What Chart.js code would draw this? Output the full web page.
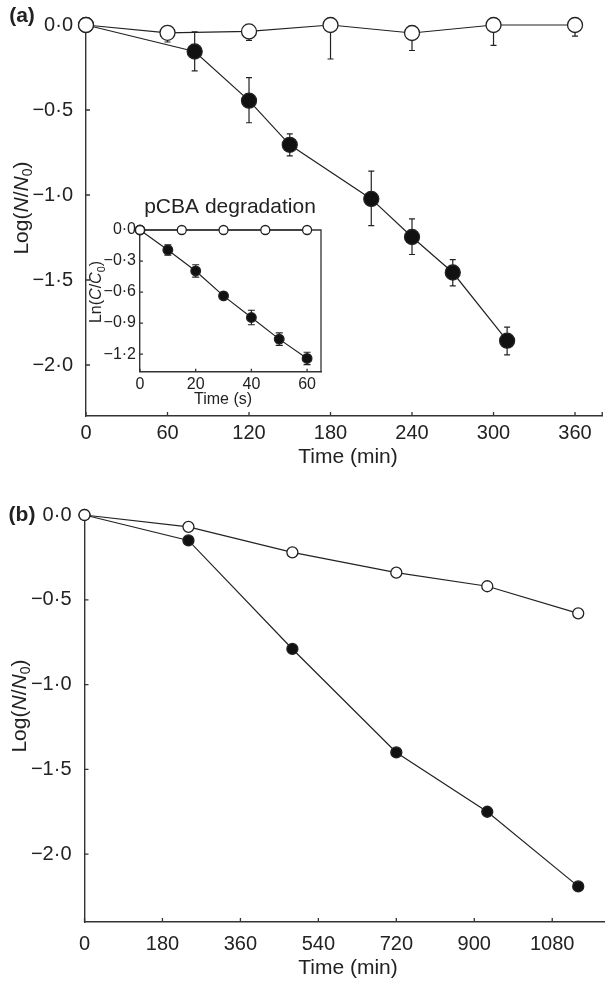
<!DOCTYPE html>
<html lang="en">
<head>
<meta charset="UTF-8">
<title>Log(N/N0) inactivation</title>
<script src="https://cdn.jsdelivr.net/npm/chart.js@4.4.0/dist/chart.umd.min.js"></script>
<style>
  body { margin: 0; background: #fff; }
  #wrap { position: relative; width: 611px; height: 982px; }
  canvas { position: absolute; }
</style>
</head>
<body>
<div id="wrap">
  <canvas id="chartA" width="611" height="490" style="left:0;top:0"></canvas>
  <canvas id="inset" width="280" height="225" style="left:60px;top:190px"></canvas>
  <canvas id="chartB" width="611" height="492" style="left:0;top:490px"></canvas>
</div>
<script>
// panel (a), minutes vs log(N/N0)
const timeA_open = [0, 60, 120, 180, 240, 300, 360];
const logA_open = [0, -0.046, -0.038, 0, -0.047, 0, 0];
const errA_open_low = [null, -0.10, -0.09, -0.20, -0.15, -0.12, -0.066];

const timeA_fill = [0, 80, 120, 150, 210, 240, 270, 310];
const logA_fill = [0, -0.156, -0.445, -0.705, -1.023, -1.247, -1.456, -1.857];
const errA_fill_low = [null, -0.27, -0.575, -0.77, -1.18, -1.35, -1.535, -1.94];
const errA_fill_high = [null, -0.04, -0.31, -0.64, -0.86, -1.14, -1.38, -1.777];

// inset, pCBA degradation, seconds vs ln(C/C0)
const timeIn_open = [0, 15, 30, 45, 60];
const lnIn_open = [0, 0, 0, 0, 0];
const errIn_open = [0, 0, 0, 0.02, 0.02];
const timeIn_fill = [0, 10, 20, 30, 40, 50, 60];
const lnIn_fill = [0, -0.193, -0.396, -0.637, -0.846, -1.055, -1.242];
const errIn_fill = [0, 0.05, 0.06, 0.035, 0.07, 0.06, 0.06];

// panel (b)
const timeB_open = [0, 240, 480, 720, 930, 1140];
const logB_open = [0, -0.07, -0.22, -0.34, -0.42, -0.58];
const timeB_fill = [0, 240, 480, 720, 930, 1140];
const logB_fill = [0, -0.15, -0.79, -1.40, -1.75, -2.19];

const ticksA_x = [0, 60, 120, 180, 240, 300, 360];
const ticksB_x = [0, 180, 360, 540, 720, 900, 1080];
const ticksLog_y = [0, -0.5, -1.0, -1.5, -2.0];
const ticksIn_x = [0, 20, 40, 60];
const ticksIn_y = [0, -0.3, -0.6, -0.9, -1.2];

const FONT = '"Liberation Sans", Arial, Helvetica, sans-serif';
Chart.defaults.font.family = FONT;
Chart.defaults.color = '#222';

const pts = (xs, ys) => xs.map((x, i) => ({x: x, y: ys[i]}));
const fmt = v => v.toFixed(1).replace('.', '\u00b7').replace('-', '\u2212');

function drawRich(ctx, parts, x, y, size, rot, weight) {
  ctx.save();
  ctx.translate(x, y);
  ctx.rotate(rot || 0);
  const font = p => (p.i ? 'italic ' : '') + (weight || 'normal') + ' ' +
    (p.sub ? size * 0.68 : size) + 'px ' + FONT;
  let w = 0;
  parts.forEach(p => { ctx.font = font(p); p.w = ctx.measureText(p.t).width; w += p.w; });
  let cx = -w / 2;
  ctx.textBaseline = 'middle';
  ctx.fillStyle = '#222';
  parts.forEach(p => {
    ctx.font = font(p);
    ctx.fillText(p.t, cx, p.sub ? size * 0.3 : 0);
    cx += p.w;
  });
  ctx.restore();
}

const errorBars = {
  id: 'errorBars',
  beforeDatasetsDraw(chart) {
    const {ctx} = chart;
    const xs = chart.scales.x, ys = chart.scales.y;
    ctx.save();
    ctx.strokeStyle = '#222';
    ctx.lineWidth = 1.2;
    chart.data.datasets.forEach(ds => {
      if (!ds.errLow) return;
      ds.data.forEach((p, i) => {
        const lo = ds.errLow[i];
        if (lo == null) return;
        const hi = ds.errHigh ? ds.errHigh[i] : p.y;
        const px = xs.getPixelForValue(p.x);
        const y1 = ys.getPixelForValue(hi), y2 = ys.getPixelForValue(lo);
        const c = ds.capW || 3;
        ctx.beginPath();
        ctx.moveTo(px, y1); ctx.lineTo(px, y2);
        ctx.moveTo(px - c, y2); ctx.lineTo(px + c, y2);
        if (ds.errHigh) { ctx.moveTo(px - c, y1); ctx.lineTo(px + c, y1); }
        ctx.stroke();
      });
    });
    ctx.restore();
  }
};

// inward tick marks, inset frame and the rich-text titles
const decor = {
  id: 'decor',
  beforeDatasetsDraw(chart, args, opts) {
    const {ctx, chartArea: a} = chart;
    const len = opts.len || 4;
    ctx.save();
    ctx.strokeStyle = '#333';
    ctx.lineWidth = 1.3;
    ctx.beginPath();
    (opts.xt || []).forEach(v => {
      const px = chart.scales.x.getPixelForValue(v);
      ctx.moveTo(px, a.bottom); ctx.lineTo(px, a.bottom - len);
    });
    (opts.yt || []).forEach(v => {
      const py = chart.scales.y.getPixelForValue(v);
      ctx.moveTo(a.left, py); ctx.lineTo(a.left + len, py);
    });
    if (opts.box) {
      ctx.moveTo(a.left, a.top); ctx.lineTo(a.right, a.top); ctx.lineTo(a.right, a.bottom);
    }
    ctx.stroke();
    ctx.restore();
  },
  afterDraw(chart, args, opts) {
    (opts.texts || []).forEach(t => drawRich(chart.ctx, t.parts, t.x, t.y, t.size, t.rot, t.weight));
  }
};

const logLabel = [{t: 'Log('}, {t: 'N', i: true}, {t: '/'}, {t: 'N', i: true}, {t: '0', sub: true}, {t: ')'}];
const lnLabel = [{t: 'Ln('}, {t: 'C', i: true}, {t: '/'}, {t: 'C', i: true}, {t: '0', sub: true}, {t: ')'}];

function makeChart(id, cfg) {
  const fixedTicks = arr => scale => { scale.ticks = arr.map(v => ({value: v})); };
  return new Chart(document.getElementById(id), {
    type: 'scatter',
    data: {datasets: cfg.datasets},
    options: {
      responsive: false,
      animation: false,
      events: [],
      layout: {padding: cfg.padding},
      plugins: {
        legend: {display: false},
        tooltip: {enabled: false},
        decor: cfg.decor
      },
      scales: {
        x: {
          type: 'linear', min: cfg.xMin, max: cfg.xMax,
          afterBuildTicks: fixedTicks(cfg.xTicks),
          afterFit: s => { s.height = cfg.xH; },
          grid: {display: false, drawTicks: false},
          border: {display: true, color: '#333', width: 1.4},
          ticks: {autoSkip: false, maxRotation: 0, padding: cfg.xPad,
                  font: {size: cfg.tickSize}, callback: v => String(v)}
        },
        y: {
          type: 'linear', min: cfg.yMin, max: cfg.yMax,
          afterBuildTicks: fixedTicks(cfg.yTicks),
          afterFit: s => { s.width = cfg.yW; },
          grid: {display: false, drawTicks: false},
          border: {display: true, color: '#333', width: 1.4},
          ticks: {autoSkip: false, padding: cfg.yPad,
                  font: {size: cfg.tickSize}, callback: v => fmt(v)}
        }
      }
    },
    plugins: [errorBars, decor]
  });
}

function series(xs, ys, filled, r, extra) {
  return Object.assign({
    data: pts(xs, ys),
    showLine: true,
    borderColor: '#222',
    borderWidth: 1.2,
    pointRadius: r,
    pointBorderWidth: 1.3,
    pointBorderColor: '#222',
    pointBackgroundColor: filled ? '#111' : '#fff',
    clip: false
  }, extra || {});
}

// panel (a)
makeChart('chartA', {
  padding: {top: 14.5, right: 1, left: 0, bottom: 0},
  xMin: 0, xMax: 380, yMin: -2.3, yMax: 0,
  xTicks: ticksA_x, yTicks: ticksLog_y,
  xH: 74, yW: 86, xPad: 5, yPad: 13, tickSize: 20,
  datasets: [
    series(timeA_open, logA_open, false, 7.5, {errLow: errA_open_low}),
    series(timeA_fill, logA_fill, true, 7.5, {errLow: errA_fill_low, errHigh: errA_fill_high})
  ],
  decor: {
    xt: ticksA_x.concat([380]), yt: ticksLog_y, len: 4,
    texts: [
      {parts: [{t: '(a)'}], x: 22, y: 16, size: 21, weight: 'bold'},
      {parts: logLabel, x: 22, y: 208, size: 21, rot: -Math.PI / 2},
      {parts: [{t: 'Time (min)'}], x: 348, y: 457, size: 21}
    ]
  }
});

// inset
makeChart('inset', {
  padding: {top: 40, right: 19, left: 0, bottom: 0},
  xMin: 0, xMax: 65, yMin: -1.37, yMax: 0,
  xTicks: ticksIn_x, yTicks: ticksIn_y,
  xH: 43.3, yW: 80, xPad: 3, yPad: 4, tickSize: 16,
  datasets: [
    series(timeIn_open, lnIn_open, false, 4.5, {
      errLow: lnIn_open.map((v, i) => v - errIn_open[i]),
      errHigh: lnIn_open.map((v, i) => v + errIn_open[i]), capW: 3}),
    series(timeIn_fill, lnIn_fill, true, 4.8, {
      errLow: lnIn_fill.map((v, i) => v - errIn_fill[i]),
      errHigh: lnIn_fill.map((v, i) => v + errIn_fill[i]), capW: 3.5})
  ],
  decor: {
    xt: ticksIn_x, yt: ticksIn_y, len: 3, box: true,
    texts: [
      {parts: [{t: 'pCBA degradation'}], x: 170, y: 17, size: 21},
      {parts: lnLabel, x: 37, y: 102, size: 16, rot: -Math.PI / 2},
      {parts: [{t: 'Time (s)'}], x: 163, y: 210, size: 16}
    ]
  }
});

// panel (b)
makeChart('chartB', {
  padding: {top: 22.7, right: 0, left: 0, bottom: 0},
  xMin: 0, xMax: 1200, yMin: -2.4, yMax: 0,
  xTicks: ticksB_x, yTicks: ticksLog_y,
  xH: 60, yW: 84.5, xPad: 10, yPad: 13, tickSize: 20,
  datasets: [
    series(timeB_open, logB_open, false, 5.5),
    series(timeB_fill, logB_fill, true, 5.5)
  ],
  decor: {
    xt: ticksB_x, yt: ticksLog_y, len: 4,
    texts: [
      {parts: [{t: '(b)'}], x: 22, y: 25, size: 21, weight: 'bold'},
      {parts: logLabel, x: 20, y: 216, size: 21, rot: -Math.PI / 2},
      {parts: [{t: 'Time (min)'}], x: 348, y: 478, size: 21}
    ]
  }
});
</script>
</body>
</html>
